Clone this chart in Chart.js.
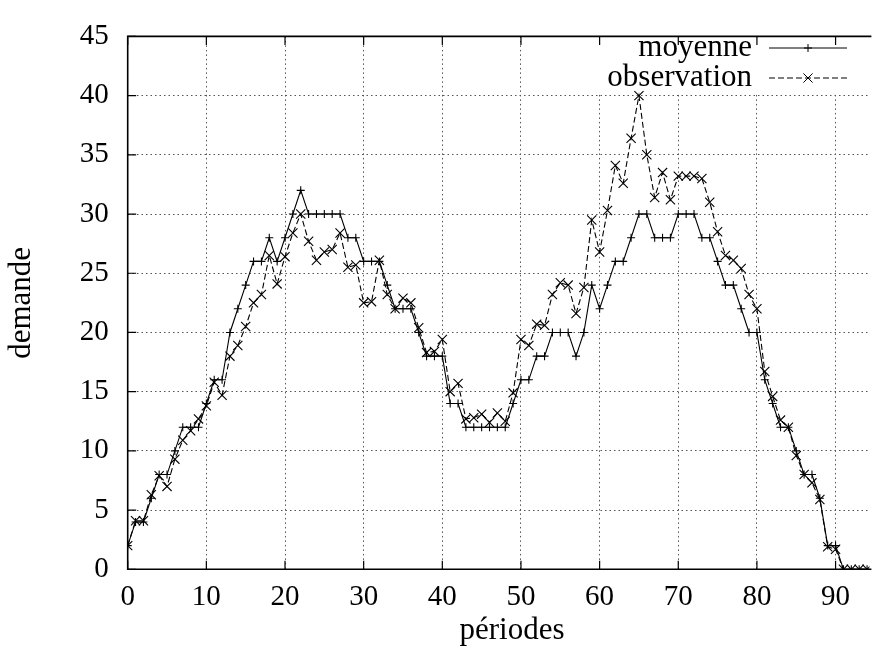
<!DOCTYPE html>
<html>
<head>
<meta charset="utf-8">
<title>demande par période</title>
<script src="https://cdn.jsdelivr.net/npm/chart.js@4.4.0/dist/chart.umd.min.js"></script>
<style>
  html, body { margin: 0; padding: 0; background: #fff; }
  #wrap { width: 877px; height: 658px; position: relative; }
</style>
</head>
<body>
<div id="wrap"><canvas id="demandeChart"></canvas></div>
<script>
const periodes = [
  0, 1, 2, 3, 4, 5, 6, 7, 8, 9,
  10, 11, 12, 13, 14, 15, 16, 17, 18, 19,
  20, 21, 22, 23, 24, 25, 26, 27, 28, 29,
  30, 31, 32, 33, 34, 35, 36, 37, 38, 39,
  40, 41, 42, 43, 44, 45, 46, 47, 48, 49,
  50, 51, 52, 53, 54, 55, 56, 57, 58, 59,
  60, 61, 62, 63, 64, 65, 66, 67, 68, 69,
  70, 71, 72, 73, 74, 75, 76, 77, 78, 79,
  80, 81, 82, 83, 84, 85, 86, 87, 88, 89,
  90, 91, 92, 93, 94
];

const moyenne = [
  2, 4, 4, 6, 8, 8, 10, 12, 12, 12,
  14, 16, 16, 20, 22, 24, 26, 26, 28, 26,
  28, 30, 32, 30, 30, 30, 30, 30, 28, 28,
  26, 26, 26, 24, 22, 22, 22, 20, 18, 18,
  18, 14, 14, 12, 12, 12, 12, 12, 12, 14,
  16, 16, 18, 18, 20, 20, 20, 18, 20, 24,
  22, 24, 26, 26, 28, 30, 30, 28, 28, 28,
  30, 30, 30, 28, 28, 26, 24, 24, 22, 20,
  20, 16, 14, 12, 12, 10, 8, 8, 6, 2,
  2, 0, 0, 0, 0
];

const observation = [
  2.0, 4.1, 4.1, 6.3, 7.9, 7.0, 9.3, 10.9, 11.7, 12.7,
  13.8, 15.8, 14.7, 18.0, 18.9, 20.5, 22.5, 23.2, 26.5, 24.1,
  26.4, 28.4, 30.0, 27.7, 26.1, 26.8, 27.0, 28.4, 25.5, 25.7,
  22.5, 22.6, 26.1, 23.2, 22.0, 22.9, 22.5, 20.4, 18.3, 18.4,
  19.4, 15.0, 15.7, 12.7, 12.8, 13.1, 12.4, 13.2, 12.5, 14.9,
  19.4, 18.9, 20.7, 20.6, 23.2, 24.2, 24.0, 21.6, 23.8, 29.5,
  26.8, 30.3, 34.1, 32.6, 36.4, 40.0, 35.0, 31.4, 33.5, 31.2,
  33.2, 33.2, 33.2, 33.0, 31.0, 28.5, 26.5, 26.1, 25.4, 23.2,
  22.0, 16.7, 14.6, 12.6, 12.0, 9.6, 8.0, 7.3, 5.9, 1.9,
  1.7, 0, 0, 0, 0
];

const xTicks = [0, 10, 20, 30, 40, 50, 60, 70, 80, 90];
const yTicks = [0, 5, 10, 15, 20, 25, 30, 35, 40, 45];
const seriesNames = ['moyenne', 'observation'];

const serif = '"Liberation Serif", "Times New Roman", serif';
const FONT_SIZE = 29;
const TEXT_SIZE = 31;
const DASH = [6, 3];

function drawPlus(ctx, x, y, r) {
  ctx.beginPath();
  ctx.moveTo(x - r, y); ctx.lineTo(x + r, y);
  ctx.moveTo(x, y - r); ctx.lineTo(x, y + r);
  ctx.stroke();
}

function drawCross(ctx, x, y, r) {
  ctx.beginPath();
  ctx.moveTo(x - r, y - r); ctx.lineTo(x + r, y + r);
  ctx.moveTo(x - r, y + r); ctx.lineTo(x + r, y - r);
  ctx.stroke();
}

// key box, frame with inward ticks, axis titles
const gnuplotFrame = {
  id: 'gnuplotFrame',
  beforeDatasetsDraw(chart) {
    const { ctx, chartArea } = chart;
    ctx.save();
    // opaque key area hides the grid behind it
    ctx.fillStyle = '#fff';
    ctx.fillRect(556, chartArea.top + 1, 308, 93 - chartArea.top);

    ctx.fillStyle = '#000';
    ctx.strokeStyle = '#000';
    ctx.lineWidth = 1;
    ctx.font = TEXT_SIZE + 'px ' + serif;
    ctx.textAlign = 'right';
    ctx.textBaseline = 'middle';
    const rows = [48, 78];
    seriesNames.forEach((name, i) => {
      const y = rows[i];
      ctx.fillText(name, 752, y);
      ctx.setLineDash(i === 0 ? [] : DASH);
      ctx.beginPath();
      ctx.moveTo(769, y);
      ctx.lineTo(847, y);
      ctx.stroke();
      ctx.setLineDash([]);
      if (i === 0) drawPlus(ctx, 808, y, 4);
      else drawCross(ctx, 808, y, 4.6);
    });
    ctx.restore();
  },
  afterDraw(chart) {
    const { ctx, chartArea, scales } = chart;
    const { left, right, top, bottom } = chartArea;
    ctx.save();
    ctx.strokeStyle = '#000';
    ctx.lineWidth = 1.6;
    ctx.setLineDash([]);
    ctx.beginPath();
    ctx.moveTo(right + 2, top);
    ctx.lineTo(left, top);
    ctx.lineTo(left, bottom);
    ctx.lineTo(right + 2, bottom);
    ctx.stroke();

    ctx.lineWidth = 1.2;
    const tick = 8.5;
    ctx.beginPath();
    xTicks.forEach(v => {
      const x = scales.x.getPixelForValue(v);
      ctx.moveTo(x, bottom); ctx.lineTo(x, bottom - tick);
      ctx.moveTo(x, top); ctx.lineTo(x, top + tick);
    });
    yTicks.forEach(v => {
      const y = scales.y.getPixelForValue(v);
      ctx.moveTo(left, y); ctx.lineTo(left + tick, y);
    });
    ctx.stroke();

    ctx.fillStyle = '#000';
    ctx.font = TEXT_SIZE + 'px ' + serif;
    ctx.textAlign = 'center';
    ctx.textBaseline = 'middle';
    ctx.fillText('périodes', 512, 631);
    ctx.translate(22, (top + bottom) / 2);
    ctx.rotate(-Math.PI / 2);
    ctx.fillText('demande', 0, 0);
    ctx.restore();
  }
};

const ctx = document.getElementById('demandeChart').getContext('2d');
new Chart(ctx, {
  type: 'line',
  data: {
    datasets: [
      {
        label: seriesNames[0],
        data: periodes.map((p, i) => ({ x: p, y: moyenne[i] })),
        borderColor: '#000',
        backgroundColor: '#000',
        borderWidth: 1.1,
        pointStyle: 'cross',
        pointRadius: 4,
        pointBorderWidth: 1.1,
        pointBorderColor: '#000',
        tension: 0,
        fill: false
      },
      {
        label: seriesNames[1],
        data: periodes.map((p, i) => ({ x: p, y: observation[i] })),
        borderColor: '#000',
        backgroundColor: '#000',
        borderWidth: 1.1,
        borderDash: DASH,
        pointStyle: 'crossRot',
        pointRadius: 6.5,
        pointBorderWidth: 1.1,
        pointBorderColor: '#000',
        tension: 0,
        fill: false
      }
    ]
  },
  options: {
    responsive: true,
    maintainAspectRatio: false,
    animation: false,
    layout: { padding: { top: 26.7, right: 0, left: 0, bottom: 0 } },
    plugins: {
      legend: { display: false },
      tooltip: { enabled: false }
    },
    scales: {
      x: {
        type: 'linear',
        min: 0,
        max: 94.3,
        afterBuildTicks: s => { s.ticks = xTicks.map(v => ({ value: v })); },
        afterFit: s => { s.height = 88.7; },
        ticks: {
          color: '#000',
          font: { family: serif, size: FONT_SIZE },
          padding: 11,
          maxRotation: 0,
          autoSkip: false
        },
        grid: { color: '#555', lineWidth: 1, drawTicks: false },
        border: { display: false, dash: [1.5, 3] }
      },
      y: {
        min: 0,
        max: 45,
        afterBuildTicks: s => { s.ticks = yTicks.map(v => ({ value: v })); },
        afterFit: s => { s.width = 127.7; },
        ticks: {
          color: '#000',
          font: { family: serif, size: FONT_SIZE },
          padding: 19
        },
        grid: { color: '#555', lineWidth: 1, drawTicks: false },
        border: { display: false, dash: [1.5, 3] }
      }
    }
  },
  plugins: [gnuplotFrame]
});
</script>
</body>
</html>
